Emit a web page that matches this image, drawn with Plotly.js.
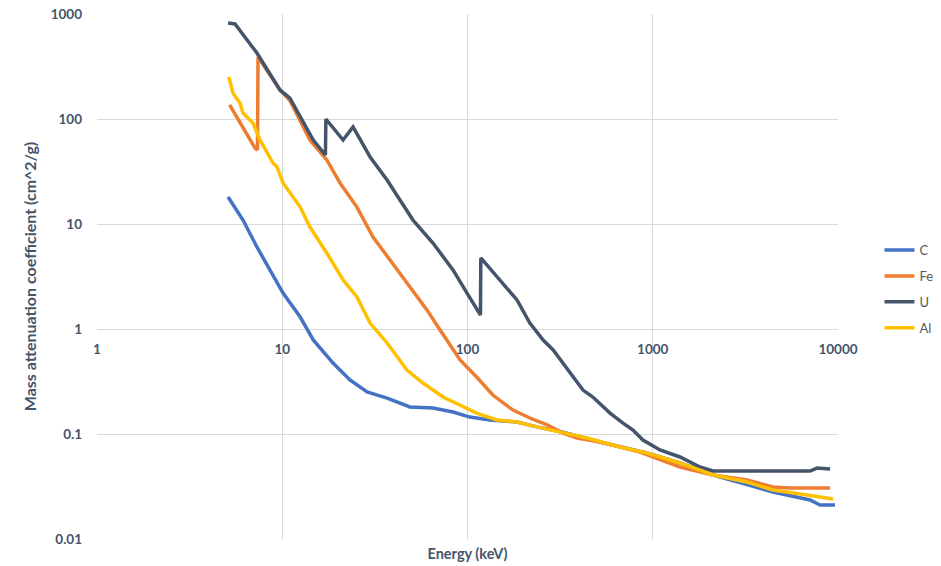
<!DOCTYPE html>
<html>
<head>
<meta charset="utf-8">
<script src="https://cdn.plot.ly/plotly-3.0.1.min.js"></script>
<style>html,body{margin:0;padding:0;background:#fff;}#chart{width:941px;height:566px;}</style>
</head>
<body>
<div id="chart"></div>
<script>
// Energy (keV) and mass attenuation coefficient (cm^2/g)
const cEnergy = [5.1, 6.14, 7.3, 8.59, 10.1, 12.5, 14.7, 18.8, 23.2, 28.7, 36.8, 48.9, 65.1, 83.5, 103, 132, 185, 237, 328, 519, 930, 1403, 2115, 3226, 4457, 7065, 8000, 9638];
const cMu     = [18.1, 10.9, 6.04, 3.65, 2.2, 1.30, 0.786, 0.474, 0.327, 0.251, 0.220, 0.181, 0.177, 0.162, 0.145, 0.136, 0.130, 0.117, 0.104, 0.0839, 0.0659, 0.053, 0.0407, 0.033, 0.028, 0.0235, 0.0211, 0.0211];

const feEnergy = [5.2, 5.91, 6.70, 7.13, 7.35, 7.4, 9.72, 11.0, 14.1, 17.4, 20.5, 25.3, 30.9, 38.2, 47.1, 60.4, 71.1, 91.2, 112, 137, 176, 217, 269, 328, 390, 519, 853, 1403, 2115, 3226, 4457, 5508, 9056];
const feMu     = [136, 91.6, 63.1, 52.9, 50.7, 389, 189, 150, 63.1, 40.7, 24.6, 14.5, 7.52, 4.54, 2.74, 1.52, 0.977, 0.507, 0.349, 0.235, 0.169, 0.142, 0.122, 0.102, 0.0916, 0.0839, 0.0674, 0.0485, 0.0407, 0.0365, 0.0313, 0.0306, 0.0306];

const uEnergy = [5.1, 5.56, 7.3, 9.72, 11.0, 14.7, 17.1, 17.2, 21.3, 24.1, 29.8, 36.8, 43.2, 50.8, 65.1, 83.5, 99.4, 117.5, 118, 144, 185, 217, 256, 290, 344, 420, 475, 588, 691, 782, 885, 1094, 1403, 1799, 2115, 7065, 7711, 9056];
const uMu     = [820, 803, 425, 189, 158, 63, 45.4, 100, 63.1, 83.9, 43.5, 26.2, 16.9, 10.9, 6.59, 3.65, 2.2, 1.36, 4.75, 3.13, 1.89, 1.14, 0.786, 0.631, 0.425, 0.262, 0.225, 0.158, 0.127, 0.109, 0.0877, 0.0704, 0.0604, 0.0485, 0.0444, 0.0444, 0.0474, 0.0464];

const alEnergy = [5.15, 5.42, 5.91, 6.14, 6.95, 7.59, 8.91, 9.37, 10.1, 12.5, 14.1, 17.4, 21.3, 25.3, 29.8, 36.8, 47.1, 57.5, 73.8, 94.6, 112, 144, 185, 237, 328, 442, 666, 930, 1403, 2115, 3226, 4457, 6804, 9398];
const alMu     = [251, 177, 142, 114, 91.6, 63.1, 38.1, 34.9, 24.6, 14.5, 9.36, 5.29, 2.93, 2.02, 1.14, 0.736, 0.407, 0.306, 0.225, 0.181, 0.158, 0.136, 0.130, 0.117, 0.104, 0.0916, 0.0752, 0.0659, 0.0530, 0.0407, 0.0349, 0.0293, 0.0262, 0.0240];

const seriesNames = ['C', 'Fe', 'U', 'Al'];
const xTickVals = [1, 10, 100, 1000, 10000];
const xTickText = ['1', '10', '100', '1000', '10000'];
const yTickVals = [0.01, 0.1, 1, 10, 100, 1000];
const yTickText = ['0.01', '0.1', '1', '10', '100', '1000'];

const colors = ['#4472C4', '#ED7D31', '#44546A', '#FFC000'];
const xs = [cEnergy, feEnergy, uEnergy, alEnergy];
const ys = [cMu, feMu, uMu, alMu];

const traces = seriesNames.map((n, i) => ({
  type: 'scatter', mode: 'lines', name: n, x: xs[i], y: ys[i],
  legendgroup: n,
  line: {color: colors[i], width: 3.5}
}));
traces.push({type: 'scatter', mode: 'lines', x: [], y: [], xaxis: 'x2', showlegend: false, hoverinfo: 'skip'});

const fam = 'Lato, "Open Sans", sans-serif';
const tickFont = {family: fam, size: 13.5, color: '#44546A', weight: 'bold'};
const layout = {
  width: 941, height: 566,
  margin: {l: 97, r: 103, t: 14, b: 27, autoexpand: false},
  paper_bgcolor: '#ffffff', plot_bgcolor: '#ffffff',
  showlegend: true,
  xaxis: {
    type: 'log', range: [0, 4], tickvals: xTickVals, ticktext: xTickText,
    showticklabels: false, showgrid: true, gridcolor: '#d9d9d9', gridwidth: 1,
    zeroline: false, showline: false, ticks: '',
    title: {text: 'Energy (keV)', font: {family: fam, size: 14.5, color: '#44546A', weight: 'bold'}, standoff: 9}
  },
  xaxis2: {
    type: 'log', range: [0, 4], overlaying: 'x', anchor: 'free', position: 0.4, side: 'bottom',
    tickvals: xTickVals, ticktext: xTickText, showgrid: false, zeroline: false, showline: false, ticks: '',
    tickfont: tickFont, ticklabelstandoff: 10
  },
  yaxis: {
    type: 'log', range: [-2, 3], tickvals: yTickVals, ticktext: yTickText,
    showgrid: true, gridcolor: '#d9d9d9', gridwidth: 1, zeroline: false, showline: false, ticks: '',
    tickfont: tickFont, ticklabelstandoff: 14,
    title: {text: 'Mass attenuation coefficient (cm^2/g)', font: {family: fam, size: 16, color: '#44546A', weight: 'bold'}, standoff: 10}
  },
  legend: {
    x: 1.056, xanchor: 'left', y: 0.476, yanchor: 'middle',
    font: {family: fam, size: 13, color: '#595959'},
    traceorder: 'grouped', tracegroupgap: 6, bgcolor: 'rgba(0,0,0,0)'
  }
};
Plotly.newPlot('chart', traces, layout, {displayModeBar: false, staticPlot: true});
</script>
</body>
</html>
